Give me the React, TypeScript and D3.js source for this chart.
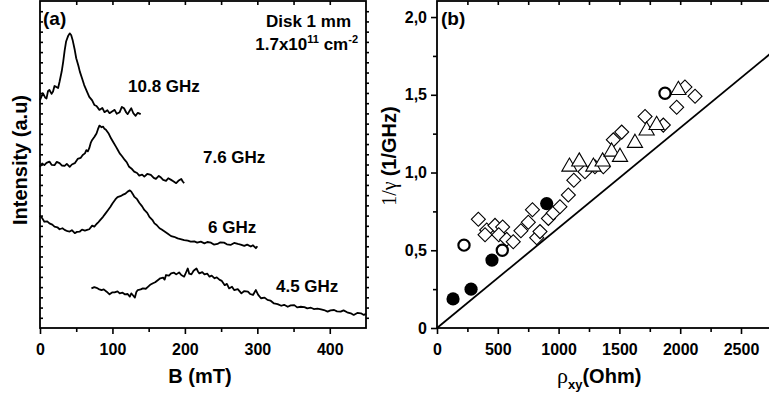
import * as React from "react";
import * as d3 from "d3";

// (a) spectra: [B (mT), intensity (a.u., traces offset)]
const spec108: [number, number][] = [
  [0, 69.7], [4, 71.8], [7, 70.5], [9, 70.2], [11, 72.4], [13, 72.8], [16, 71.6], [18, 72.3],
  [20, 74.0], [22, 73.8], [25, 73.4], [27, 75.3], [30, 78.5], [32, 81.4], [34, 84.8],
  [36, 87.6], [39, 89.4], [41, 90.1], [43, 89.6], [45, 88.1], [48, 85.0], [50, 82.5],
  [53, 80.2], [55, 78.4], [58, 76.4], [61, 74.3], [65, 72.2], [68, 70.7], [72, 69.6],
  [75, 68.2], [78, 67.9], [82, 66.7], [86, 67.3], [89, 66.0], [93, 66.6], [96, 65.7],
  [100, 66.3], [103, 66.7], [106, 65.5], [110, 66.0], [113, 67.6], [116, 67.2], [119, 65.9],
  [121, 65.4], [124, 66.5], [126, 67.2], [129, 65.6], [132, 64.9], [135, 65.8], [139, 65.4],
];
const spec76: [number, number][] = [
  [0, 49.3], [3, 50.3], [6, 49.8], [9, 50.5], [13, 50.9], [16, 49.9], [20, 49.8], [23, 50.8],
  [27, 50.4], [30, 49.7], [34, 49.6], [37, 50.2], [41, 49.3], [44, 50.0], [48, 50.4],
  [52, 51.7], [56, 52.0], [59, 52.9], [62, 53.4], [64, 54.4], [66, 54.0], [68, 55.0],
  [70, 56.6], [72, 57.5], [75, 58.4], [78, 59.5], [80, 60.8], [82, 61.9], [85, 61.4],
  [87, 61.6], [89, 60.9], [91, 60.6], [95, 59.4], [98, 58.0], [101, 56.9], [105, 55.4],
  [108, 54.2], [110, 53.4], [113, 52.6], [117, 51.4], [120, 50.6], [123, 49.3], [127, 48.6],
  [130, 47.8], [134, 47.4], [137, 46.6], [141, 46.9], [144, 46.3], [148, 47.1], [153, 46.8],
  [157, 45.9], [160, 45.6], [164, 46.5], [167, 46.0], [170, 45.3], [174, 45.0], [177, 45.8],
  [181, 45.3], [184, 44.9], [188, 44.3], [191, 45.0], [195, 45.6], [197, 44.8], [199, 44.3],
];
const spec6: [number, number][] = [
  [0, 34.3], [3, 33.6], [6, 32.5], [10, 32.6], [13, 32.0], [17, 31.6], [20, 31.0], [24, 30.8],
  [27, 30.2], [31, 30.5], [34, 30.0], [38, 29.6], [41, 29.5], [44, 29.9], [48, 29.0],
  [51, 29.4], [55, 29.5], [58, 30.1], [62, 29.8], [65, 30.0], [68, 30.2], [72, 31.3],
  [75, 31.0], [78, 31.8], [80, 32.2], [83, 33.0], [87, 34.0], [90, 34.9], [94, 36.1],
  [97, 37.0], [100, 38.1], [104, 39.3], [107, 40.0], [111, 40.3], [114, 40.7], [118, 41.1],
  [121, 41.7], [124, 42.1], [126, 41.7], [128, 41.0], [130, 40.2], [134, 39.4], [137, 38.3],
  [141, 37.2], [144, 36.1], [148, 35.2], [151, 34.0], [155, 33.1], [158, 32.0], [161, 31.5],
  [165, 30.5], [168, 30.1], [172, 29.5], [176, 28.9], [181, 28.1], [185, 27.9], [190, 27.4],
  [194, 27.2], [199, 26.9], [204, 26.7], [208, 26.4], [213, 26.5], [217, 26.1], [222, 26.4],
  [227, 25.9], [231, 26.3], [236, 26.1], [240, 25.5], [245, 25.7], [249, 26.2], [254, 26.1],
  [258, 25.6], [263, 25.4], [268, 26.0], [273, 25.7], [277, 25.5], [282, 25.1], [286, 25.5],
  [291, 24.9], [294, 25.3], [298, 24.4], [300, 25.0],
];
const spec45: [number, number][] = [
  [71, 12.1], [75, 12.5], [78, 12.3], [81, 11.9], [85, 11.6], [88, 11.8], [92, 11.1],
  [96, 10.3], [100, 10.9], [103, 10.9], [107, 11.2], [110, 10.6], [114, 10.8], [117, 10.3],
  [121, 10.4], [124, 9.6], [126, 10.6], [128, 10.1], [131, 9.3], [133, 11.0], [135, 11.6],
  [139, 11.8], [142, 12.1], [146, 12.0], [149, 12.6], [152, 13.2], [156, 13.7], [159, 14.0],
  [163, 14.7], [166, 15.2], [170, 15.4], [172, 14.8], [174, 16.2], [178, 16.0], [181, 16.7],
  [185, 16.9], [188, 16.4], [192, 17.0], [195, 16.2], [199, 15.7], [202, 17.2], [204, 18.2],
  [206, 16.6], [209, 16.4], [212, 17.5], [216, 18.2], [218, 17.3], [220, 16.7], [224, 17.1],
  [227, 16.4], [231, 16.6], [234, 15.7], [237, 16.0], [241, 15.2], [244, 15.5], [248, 14.7],
  [251, 14.4], [255, 13.1], [258, 13.5], [261, 12.1], [265, 12.6], [268, 11.6], [273, 11.9],
  [278, 10.6], [282, 11.3], [287, 11.1], [290, 10.4], [294, 10.1], [298, 11.6], [301, 10.2],
  [305, 9.1], [310, 9.3], [314, 8.6], [318, 8.4], [323, 7.5], [328, 7.3], [333, 6.8],
  [337, 7.1], [342, 6.5], [346, 6.9], [351, 7.0], [355, 6.3], [360, 6.5], [365, 6.4],
  [369, 6.0], [374, 6.2], [378, 5.8], [383, 5.9], [388, 5.7], [392, 5.5], [397, 5.0],
  [401, 5.4], [406, 5.5], [410, 5.1], [415, 5.0], [419, 5.4], [424, 4.8], [429, 4.5],
  [433, 4.0], [438, 4.6], [443, 4.5], [447, 4.0], [450, 4.3],
];
const specNames = ["10.8 GHz", "7.6 GHz", "6 GHz", "4.5 GHz"];

// (b) 1/gamma (1/GHz) vs rho_xy (Ohm)
const rhoFilled = [132, 280, 452, 902];
const invFilled = [0.187, 0.25, 0.437, 0.8];
const rhoOpen = [222, 537, 1875];
const invOpen = [0.533, 0.5, 1.51];
const rhoDiamond = [
  340, 409, 395, 477, 540, 508, 573, 627, 690, 751, 785, 820, 847, 916, 956, 1011, 1080,
  1125, 1217, 1299, 1368, 1450, 1519, 1711, 1861, 1971, 2039, 2122,
];
const invDiamond = [
  0.7, 0.63, 0.6, 0.66, 0.65, 0.6, 0.57, 0.555, 0.625, 0.68, 0.76, 0.58, 0.62, 0.705, 0.74,
  0.78, 0.855, 0.95, 1.005, 1.037, 1.037, 1.21, 1.26, 1.36, 1.305, 1.42, 1.55, 1.49,
];
const rhoTriangle = [1089, 1170, 1286, 1362, 1436, 1505, 1628, 1724, 1806, 1985];
const invTriangle = [1.037, 1.07, 1.037, 1.07, 1.134, 1.1, 1.19, 1.27, 1.305, 1.53];
const refLine: [number, number][] = [[0, 0], [2750, 1.77]];

const FONT = "Arial, 'Liberation Sans', sans-serif";
const SERIF = "'Liberation Serif', 'DejaVu Serif', serif";

export default function App() {
  const ref = React.useRef<SVGSVGElement>(null);

  React.useEffect(() => {
    const svg = d3.select(ref.current);
    svg.selectAll("*").remove();

    const styleAxis = (g: any, labels: boolean) => {
      g.selectAll("path.domain").remove();
      g.selectAll("line").attr("stroke", "#000").attr("stroke-width", 1.6);
      g.selectAll("text")
        .attr("font-family", FONT)
        .attr("font-weight", "bold")
        .attr("font-size", 16)
        .attr("fill", "#000");
      if (!labels) g.selectAll("text").remove();
    };

    // ---------- panel (a) ----------
    const xA = d3.scaleLinear().domain([0, 450]).range([40, 366]);
    const yA = d3.scaleLinear().domain([0, 100]).range([328, 1]);
    const a = svg.append("g");

    a.append("g")
      .attr("transform", "translate(0,328)")
      .call(d3.axisBottom(xA).tickValues([0, 100, 200, 300, 400]).tickSize(6).tickPadding(10).tickFormat(d3.format("d")))
      .call((g: any) => styleAxis(g, true));
    a.append("g")
      .attr("transform", "translate(0,328)")
      .call(d3.axisBottom(xA).tickValues([50, 150, 250, 350]).tickSize(4))
      .call((g: any) => styleAxis(g, false));
    a.append("g")
      .attr("transform", "translate(0,1)")
      .call(d3.axisTop(xA).tickValues(d3.range(50, 450, 50)).tickSize(-4))
      .call((g: any) => styleAxis(g, false));
    const yTicksA = d3.range(1, 32).map((i) => i * 3.125);
    a.append("g")
      .attr("transform", "translate(40,0)")
      .call(d3.axisLeft(yA).tickValues(yTicksA).tickSize(-3))
      .call((g: any) => styleAxis(g, false));
    a.append("g")
      .attr("transform", "translate(366,0)")
      .call(d3.axisRight(yA).tickValues(yTicksA).tickSize(3))
      .call((g: any) => styleAxis(g, false));

    a.append("rect")
      .attr("x", 40).attr("y", 1).attr("width", 326).attr("height", 327)
      .attr("fill", "none").attr("stroke", "#000").attr("stroke-width", 1.8);

    const lineA = d3.line<[number, number]>().x((d) => xA(d[0])).y((d) => yA(d[1]));
    [spec108, spec76, spec6, spec45].forEach((s) => {
      a.append("path")
        .attr("d", lineA(s))
        .attr("fill", "none")
        .attr("stroke", "#000")
        .attr("stroke-width", 1.8)
        .attr("stroke-linejoin", "round");
    });

    const namePos = [[128, 92], [203, 163], [208, 233], [276, 292]];
    specNames.forEach((n, i) => {
      a.append("text")
        .attr("x", namePos[i][0]).attr("y", namePos[i][1])
        .attr("font-family", FONT).attr("font-weight", "bold").attr("font-size", 17)
        .text(n);
    });

    a.append("text").attr("x", 43).attr("y", 25)
      .attr("font-family", FONT).attr("font-weight", "bold").attr("font-size", 19)
      .text("(a)");
    a.append("text").attr("x", 351).attr("y", 27).attr("text-anchor", "end")
      .attr("font-family", FONT).attr("font-weight", "bold").attr("font-size", 17)
      .text("Disk 1 mm");
    const dens = a.append("text").attr("x", 358).attr("y", 50).attr("text-anchor", "end")
      .attr("font-family", FONT).attr("font-weight", "bold").attr("font-size", 17);
    dens.append("tspan").text("1.7x10");
    dens.append("tspan").attr("dy", -7).attr("font-size", 11).text("11");
    dens.append("tspan").attr("dy", 7).text(" cm");
    dens.append("tspan").attr("dy", -7).attr("font-size", 11).text("-2");

    a.append("text").attr("x", 200).attr("y", 383).attr("text-anchor", "middle")
      .attr("font-family", FONT).attr("font-weight", "bold").attr("font-size", 20)
      .text("B (mT)");
    a.append("text")
      .attr("transform", "translate(27,160) rotate(-90)")
      .attr("text-anchor", "middle")
      .attr("font-family", FONT).attr("font-weight", "bold").attr("font-size", 20)
      .text("Intensity (a.u)");

    // ---------- panel (b) ----------
    const xB = d3.scaleLinear().domain([0, 2750]).range([437, 437 + 2750 * 0.1216]);
    const yB = d3.scaleLinear().domain([0, 2.1]).range([328, 1.5]);
    const b = svg.append("g");

    b.append("g")
      .attr("transform", "translate(0,328)")
      .call(d3.axisBottom(xB).tickValues(d3.range(0, 2501, 500)).tickSize(6).tickPadding(10).tickFormat(d3.format("d")))
      .call((g: any) => styleAxis(g, true));
    b.append("g")
      .attr("transform", "translate(0,328)")
      .call(d3.axisBottom(xB).tickValues(d3.range(250, 2751, 500)).tickSize(4))
      .call((g: any) => styleAxis(g, false));
    b.append("g")
      .attr("transform", "translate(0,1)")
      .call(d3.axisTop(xB).tickValues(d3.range(250, 2751, 250)).tickSize(-4))
      .call((g: any) => styleAxis(g, false));
    b.append("g")
      .attr("transform", "translate(437,0)")
      .call(
        d3.axisLeft(yB).tickValues([0, 0.5, 1, 1.5, 2]).tickSize(6).tickPadding(4)
          .tickFormat((d: any) => (d === 0 ? "0" : d3.format(".1f")(d).replace(".", ",")))
      )
      .call((g: any) => styleAxis(g, true));
    b.append("g")
      .attr("transform", "translate(437,0)")
      .call(d3.axisLeft(yB).tickValues([0.25, 0.75, 1.25, 1.75]).tickSize(4))
      .call((g: any) => styleAxis(g, false));

    b.append("rect")
      .attr("x", 437).attr("y", 1).attr("width", 345).attr("height", 327)
      .attr("fill", "none").attr("stroke", "#000").attr("stroke-width", 1.8);

    const lineB = d3.line<[number, number]>().x((d) => xB(d[0])).y((d) => yB(d[1]));
    b.append("path").attr("d", lineB(refLine))
      .attr("fill", "none").attr("stroke", "#000").attr("stroke-width", 1.8);

    const diamond = d3.symbol(d3.symbolSquare, 98)();
    rhoDiamond.forEach((r, i) => {
      b.append("path").attr("d", diamond)
        .attr("transform", `translate(${xB(r)},${yB(invDiamond[i])}) rotate(45)`)
        .attr("fill", "#fff").attr("stroke", "#000").attr("stroke-width", 1.1);
    });
    const tri = d3.symbol(d3.symbolTriangle, 100)();
    rhoTriangle.forEach((r, i) => {
      b.append("path").attr("d", tri)
        .attr("transform", `translate(${xB(r)},${yB(invTriangle[i])})`)
        .attr("fill", "#fff").attr("stroke", "#000").attr("stroke-width", 1.1);
    });
    rhoOpen.forEach((r, i) => {
      b.append("circle").attr("cx", xB(r)).attr("cy", yB(invOpen[i])).attr("r", 5.6)
        .attr("fill", "#fff").attr("stroke", "#000").attr("stroke-width", 2.2);
    });
    rhoFilled.forEach((r, i) => {
      b.append("circle").attr("cx", xB(r)).attr("cy", yB(invFilled[i])).attr("r", 6.6)
        .attr("fill", "#000");
    });

    b.append("text").attr("x", 441).attr("y", 25)
      .attr("font-family", FONT).attr("font-weight", "bold").attr("font-size", 19)
      .text("(b)");

    const xl = b.append("text").attr("x", 557).attr("y", 383)
      .attr("font-family", FONT).attr("font-weight", "bold").attr("font-size", 20);
    xl.append("tspan").attr("font-family", SERIF).attr("font-weight", "normal").attr("font-size", 22).text("ρ");
    xl.append("tspan").attr("dy", 6).attr("font-size", 13).text("xy");
    xl.append("tspan").attr("dy", -6).text("(Ohm)");

    const yl = b.append("text")
      .attr("transform", "translate(396,156) rotate(-90)")
      .attr("text-anchor", "middle")
      .attr("font-family", FONT).attr("font-weight", "bold").attr("font-size", 20);
    yl.append("tspan").attr("font-family", SERIF).attr("font-weight", "normal").text("1/γ ");
    yl.append("tspan").text("(1/GHz)");
  }, []);

  return (
    <div style={{ position: "absolute", left: 0, top: 0 }}>
      <svg ref={ref} width={769} height={398} style={{ display: "block", background: "#fff" }} />
    </div>
  );
}
